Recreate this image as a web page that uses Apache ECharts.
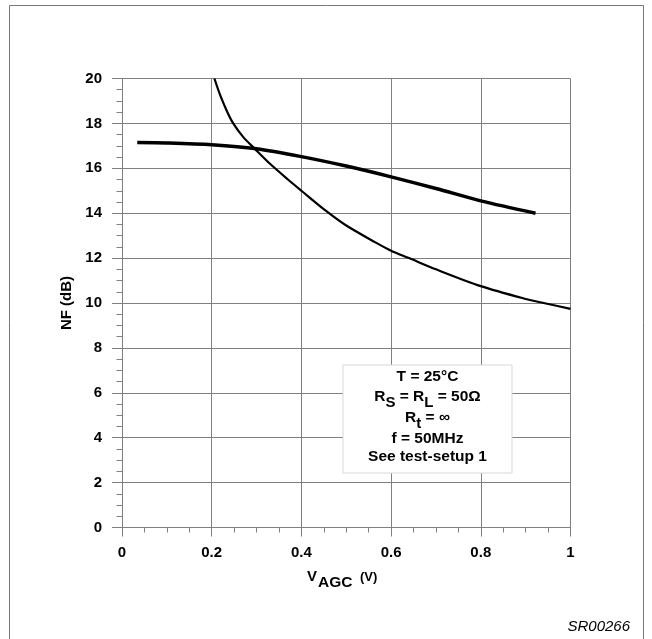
<!DOCTYPE html>
<html>
<head>
<meta charset="utf-8">
<script src="https://cdn.jsdelivr.net/npm/echarts@6/dist/echarts.min.js"></script>
<style>
html,body{margin:0;padding:0;background:#fff;}
#c{width:652px;height:639px;}
</style>
</head>
<body>
<div id="c"></div>
<script>
// ---- data ----
const xTickLabels = ['0', '0.2', '0.4', '0.6', '0.8', '1'];
const yTickLabels = ['0', '2', '4', '6', '8', '10', '12', '14', '16', '18', '20'];

// upper, thick, flat curve
const vagcA = [0.034, 0.1, 0.2, 0.3, 0.4, 0.5, 0.6, 0.7, 0.8, 0.922];
const nfA   = [17.15, 17.13, 17.05, 16.87, 16.52, 16.1, 15.62, 15.1, 14.55, 14.0];

// steep falling curve
const vagcB = [0.206, 0.22, 0.235, 0.248, 0.27, 0.297, 0.33, 0.37, 0.4, 0.455, 0.5, 0.565, 0.6, 0.64, 0.7, 0.8, 0.9, 0.94, 1.0];
const nfB   = [20, 19.2, 18.5, 18.0, 17.4, 16.85, 16.2, 15.5, 15.0, 14.1, 13.45, 12.7, 12.33, 12.0, 11.5, 10.75, 10.18, 10.0, 9.74];

const noteLines = ['T = 25°C', '{m|R}{s|S}{m| = R}{s|L}{m| = 50Ω}', '{m|R}{s|t}{m| = ∞}', 'f = 50MHz', 'See test-setup 1'];

const FONT = '"Liberation Sans", Arial, Helvetica, sans-serif';
const GRID = '#808080';

const chart = echarts.init(document.getElementById('c'), null, {renderer: 'canvas'});

function pairs(xs, ys) { return xs.map((x, i) => [x, ys[i]]); }

const noteCx = 427.5;
const noteY = [377, 398, 419, 439, 457];

chart.setOption({
  animation: false,
  backgroundColor: '#ffffff',
  grid: {left: 122, top: 78.5, right: 81.5, bottom: 111.5, containLabel: false},
  xAxis: {
    type: 'value', min: 0, max: 1, interval: 0.2,
    axisLine: {show: true, onZero: false, lineStyle: {color: GRID, width: 1}},
    axisTick: {show: true, length: 9, lineStyle: {color: GRID}},
    minorTick: {show: true, splitNumber: 4, length: 5, lineStyle: {color: GRID}},
    splitLine: {show: true, lineStyle: {color: GRID, width: 1}},
    axisLabel: {
      margin: 18, color: '#000', fontFamily: FONT, fontWeight: 'bold', fontSize: 15,
      formatter: (v, i) => xTickLabels[i]
    }
  },
  yAxis: {
    type: 'value', min: 0, max: 20, interval: 2,
    name: 'NF (dB)', nameLocation: 'middle', nameGap: 29, nameRotate: 90,
    nameTextStyle: {color: '#000', fontFamily: FONT, fontWeight: 'bold', fontSize: 15},
    axisLine: {show: true, onZero: false, lineStyle: {color: GRID, width: 1}},
    axisTick: {show: true, length: 10, lineStyle: {color: GRID}},
    minorTick: {show: true, splitNumber: 4, length: 5.5, lineStyle: {color: GRID}},
    splitLine: {show: true, lineStyle: {color: GRID, width: 1}},
    axisLabel: {
      margin: 20, color: '#000', fontFamily: FONT, fontWeight: 'bold', fontSize: 15,
      formatter: (v, i) => yTickLabels[i]
    }
  },
  series: [
    {type: 'line', data: pairs(vagcA, nfA), showSymbol: false, symbol: 'none',
     smooth: 0.3, lineStyle: {color: '#000', width: 3.5}, z: 3},
    {type: 'line', data: pairs(vagcB, nfB), showSymbol: false, symbol: 'none',
     smooth: 0.3, lineStyle: {color: '#000', width: 2.2}, z: 3}
  ],
  graphic: [
    {type: 'rect', shape: {x: 9.5, y: 5.5, width: 634, height: 640}, silent: true,
     style: {fill: 'none', stroke: '#777', lineWidth: 1}, z: 0},
    {type: 'rect', shape: {x: 343, y: 365, width: 169, height: 108}, silent: true,
     style: {fill: '#fff', stroke: '#d8d8d8', lineWidth: 1}, z: 10},
    ...noteLines.map((t, i) => ({
      type: 'text', x: noteCx, y: noteY[i], silent: true, z: 11,
      style: {
        text: t, align: 'center', verticalAlign: 'middle',
        fill: '#000', font: 'bold 15.5px ' + FONT,
        rich: {
          m: {fontFamily: FONT, fontWeight: 'bold', fontSize: 15.5, lineHeight: 18, verticalAlign: 'top', fill: '#000'},
          s: {fontFamily: FONT, fontWeight: 'bold', fontSize: 15, lineHeight: 18, verticalAlign: 'top', padding: [6, 0, 0, 0], fill: '#000'}
        }
      }
    })),
    {type: 'text', x: 307, y: 576.5, silent: true,
     style: {text: 'V', align: 'left', verticalAlign: 'middle', fill: '#000', font: 'bold 15px ' + FONT}},
    {type: 'text', x: 318, y: 583, silent: true,
     style: {text: 'AGC', align: 'left', verticalAlign: 'middle', fill: '#000', font: 'bold 15.5px ' + FONT}},
    {type: 'text', x: 360, y: 577, silent: true,
     style: {text: '(V)', align: 'left', verticalAlign: 'middle', fill: '#000', font: 'bold 13px ' + FONT}},
    {type: 'text', x: 630, y: 627, silent: true,
     style: {text: 'SR00266', align: 'right', verticalAlign: 'middle', fill: '#000', font: 'italic 15px ' + FONT}}
  ]
});
</script>
</body>
</html>
